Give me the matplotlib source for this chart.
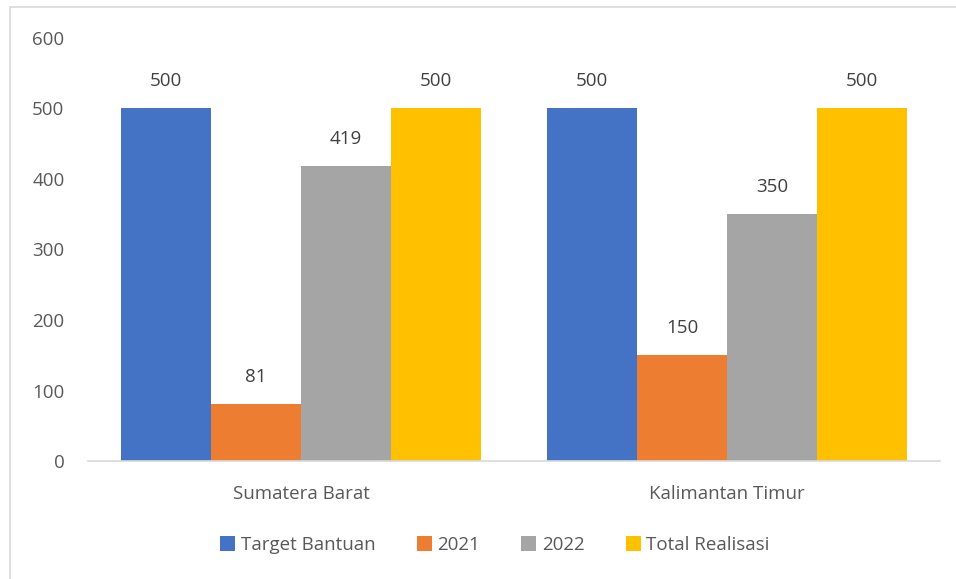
import matplotlib
matplotlib.use("Agg")
import matplotlib.pyplot as plt
import numpy as np
from matplotlib.patches import Rectangle

categories = ["Sumatera Barat", "Kalimantan Timur"]
series_names = ["Target Bantuan", "2021", "2022", "Total Realisasi"]
target = [500, 500]
y2021 = [81, 150]
y2022 = [419, 350]
total = [500, 500]
series_values = [target, y2021, y2022, total]
colors = ["#4472C4", "#ED7D31", "#A5A5A5", "#FFC000"]
yticks = [0, 100, 200, 300, 400, 500, 600]

plt.rcParams['font.family'] = ['Open Sans', 'DejaVu Sans']
text_color = "#595959"
fs = 13.5

fig = plt.figure(figsize=(9.56, 5.79), dpi=100)
ax = fig.add_axes([88/956, 1-461/579, (940-88)/956, (461-38)/579])

x = np.arange(len(categories))
w = 90/426
offsets = (np.arange(4) - 1.5) * w
for i, (name, vals, c) in enumerate(zip(series_names, series_values, colors)):
    bars = ax.bar(x + offsets[i], vals, width=w, color=c, label=name)
    for b, v in zip(bars, vals):
        ax.annotate(str(v), (b.get_x() + b.get_width()/2, v), xytext=(0, 13),
                    textcoords="offset points", ha="center", va="bottom",
                    fontsize=fs, color="#404040")

ax.set_xlim(-0.5, 1.5)
ax.set_ylim(0, 600)
ax.set_yticks(yticks)
ax.set_xticks(x)
ax.set_xticklabels(categories)
ax.tick_params(axis='both', length=0, labelsize=fs, labelcolor=text_color)
ax.tick_params(axis='y', pad=17)
ax.tick_params(axis='x', pad=17)
for s in ["top", "right", "left"]:
    ax.spines[s].set_visible(False)
ax.spines["bottom"].set_color("#D9D9D9")
ax.spines["bottom"].set_linewidth(1.2)

leg = fig.legend(loc="center", bbox_to_anchor=(495/956, 1-545/579), ncol=4,
                 frameon=False, fontsize=fs, handlelength=0.8, handleheight=0.8,
                 handletextpad=0.3, columnspacing=2.2, labelcolor=text_color)

fig.patches.append(Rectangle((10/956, -0.1), 1.0, 1-7/579+0.1, transform=fig.transFigure,
                             fill=False, edgecolor="#D9D9D9", linewidth=1.2))

fig.savefig("out.png", dpi=100)
